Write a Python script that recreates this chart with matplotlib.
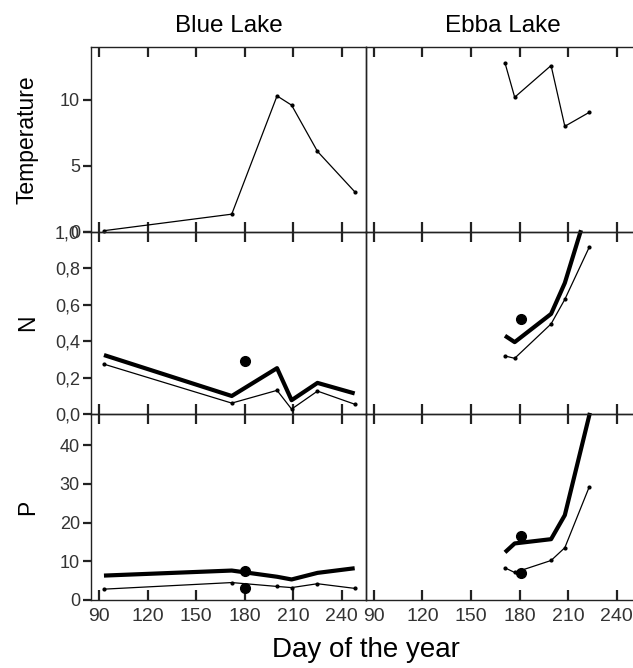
import numpy as np
import matplotlib.pyplot as plt
from matplotlib.ticker import FuncFormatter

# Blue Lake
blue_day = [93, 172, 200, 209, 225, 248]
blue_temp = [0.1, 1.35, 10.3, 9.6, 6.1, 3.05]
blue_n_thick = [0.324, 0.099, 0.252, 0.076, 0.171, 0.113]
blue_n_thin = [0.274, 0.060, 0.130, 0.027, 0.126, 0.054]
blue_p_thick = [6.3, 7.6, 6.0, 5.3, 7.0, 8.2]
blue_p_thin = [2.8, 4.5, 3.5, 3.2, 4.2, 3.0]
blue_dot_day = 180
blue_n_dot = [0.292]
blue_p_dot = [7.6, 3.0]

# Ebba Lake
ebba_day = [171, 177, 199.5, 208, 223]
ebba_temp = [12.8, 10.2, 12.6, 8.0, 9.05]
ebba_n_thick_day = [171, 177, 199.5, 208, 218]
ebba_n_thick = [0.43, 0.395, 0.55, 0.72, 1.01]
ebba_n_thin = [0.319, 0.306, 0.495, 0.63, 0.915]
ebba_p_thick_day = [171, 177, 199.5, 208, 223.5]
ebba_p_thick = [12.3, 14.6, 15.7, 21.9, 48.3]
ebba_p_thin = [8.3, 7.1, 10.2, 13.5, 29.1]
ebba_dot_day = 181
ebba_n_dot = [0.52]
ebba_p_dot = [16.5, 7.0]

lakes = ["Blue Lake", "Ebba Lake"]
row_labels = ["Temperature", "N", "P"]
xticks = [90, 120, 150, 180, 210, 240]
ylims = [(0, 14), (0, 1.0), (0, 48)]
yticks = [[0, 5, 10], [0, 0.2, 0.4, 0.6, 0.8, 1.0], [0, 10, 20, 30, 40]]

plt.rcParams['font.family'] = ['Liberation Sans', 'DejaVu Sans']

fig = plt.figure(figsize=(6.33, 6.68), dpi=100)

left = [0.1438, 0.578]
width = 0.4344
bottoms = [0.6527, 0.3802, 0.1018]
heights = [0.2769, 0.2725, 0.2784]

comma = FuncFormatter(lambda v, p: (f"{v:.1f}".replace('.', ',')))
plain = FuncFormatter(lambda v, p: f"{v:.0f}")

axes = {}
for r in range(3):
    for c in range(2):
        ax = fig.add_axes([left[c], bottoms[r], width, heights[r]])
        ax.set_xlim(85, 255)
        ax.set_ylim(*ylims[r])
        ax.set_xticks(xticks)
        ax.tick_params(axis='x', direction='in', top=True, bottom=True,
                       length=7, width=1.6, color='#222222',
                       labelbottom=(r == 2), labelsize=14, labelcolor='#333333', pad=6)
        ax.set_yticks(yticks[r])
        if c == 0:
            ax.tick_params(axis='y', direction='out', length=6, width=1.6,
                           color='#222222', labelsize=13, labelcolor='#333333', pad=2)
            ax.yaxis.set_major_formatter(comma if r == 1 else plain)
            ax.set_ylabel(row_labels[r], fontsize=16.5, va='center')
            ax.yaxis.set_label_coords(-0.232, 0.5)
        else:
            ax.tick_params(axis='y', left=False, labelleft=False)
        for s in ax.spines.values():
            s.set_linewidth(1.0)
            s.set_color('#222222')
        ax.patch.set_alpha(0)
        if r == 0:
            ax.set_title(lakes[c], fontsize=17.5, pad=11)
        axes[(r, c)] = ax

thin = dict(color='black', linewidth=0.9, marker='o', markersize=2, clip_on=False)
thick = dict(color='black', linewidth=3.0, solid_capstyle='butt', clip_on=False)
dot = dict(color='black', linestyle='none', marker='o', markersize=7)

# temperature
axes[(0, 0)].plot(blue_day, blue_temp, **thin)
axes[(0, 1)].plot(ebba_day, ebba_temp, **thin)

# N
axes[(1, 0)].plot(blue_day, blue_n_thick, **thick)
axes[(1, 0)].plot(blue_day, blue_n_thin, **thin)
axes[(1, 0)].plot([blue_dot_day] * len(blue_n_dot), blue_n_dot, **dot)
axes[(1, 1)].plot(ebba_n_thick_day, ebba_n_thick, **thick)
axes[(1, 1)].plot(ebba_day, ebba_n_thin, **thin)
axes[(1, 1)].plot([ebba_dot_day] * len(ebba_n_dot), ebba_n_dot, **dot)

# P
axes[(2, 0)].plot(blue_day, blue_p_thick, **thick)
axes[(2, 0)].plot(blue_day, blue_p_thin, **thin)
axes[(2, 0)].plot([blue_dot_day] * len(blue_p_dot), blue_p_dot, **dot)
axes[(2, 1)].plot(ebba_p_thick_day, ebba_p_thick, **thick)
axes[(2, 1)].plot(ebba_day, ebba_p_thin, **thin)
axes[(2, 1)].plot([ebba_dot_day] * len(ebba_p_dot), ebba_p_dot, **dot)

fig.text(0.578, 0.027, "Day of the year", fontsize=20, ha='center', va='center')

fig.savefig("out.png", dpi=100)
